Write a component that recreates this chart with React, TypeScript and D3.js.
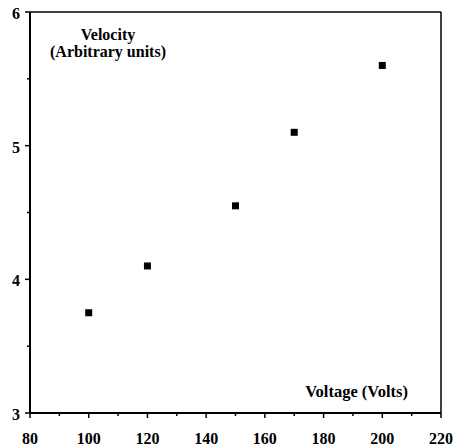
import React, { useEffect, useRef } from "react";
import * as d3 from "d3";

const voltage = [100, 120, 150, 170, 200];
const velocity = [3.75, 4.1, 4.55, 5.1, 5.6];
const xTickLabels = [80, 100, 120, 140, 160, 180, 200, 220];
const xMinorTicks = [90, 110, 130, 150, 170, 190, 210];
const yTickLabels = [3, 4, 5, 6];
const yMinorTicks = [3.5, 4.5, 5.5];
const yTitle = ["Velocity", "(Arbitrary units)"];
const xTitle = "Voltage (Volts)";

const W = 454;
const H = 446;
const FONT = "Liberation Serif, Times New Roman, DejaVu Serif, serif";

export default function App() {
  const ref = useRef<SVGSVGElement | null>(null);
  useEffect(() => {
    const svg = d3.select(ref.current);
    svg.selectAll("*").remove();
    const x = d3.scaleLinear().domain([80, 220]).range([30, 441]);
    const y = d3.scaleLinear().domain([3, 6]).range([413, 12]);

    const txt = (sel: any, size = 16) =>
      sel.style("font-family", FONT).style("font-weight", "bold").style("font-size", `${size}px`).attr("fill", "#000");

    // frame
    svg.append("line").attr("x1", x(80)).attr("x2", x(220)).attr("y1", y(6)).attr("y2", y(6))
      .attr("stroke", "#000").attr("stroke-width", 1.5);
    svg.append("line").attr("x1", x(220)).attr("x2", x(220)).attr("y1", y(6)).attr("y2", y(3))
      .attr("stroke", "#000").attr("stroke-width", 1.5);

    // bottom axis
    const gx = svg.append("g").attr("transform", `translate(0,${y(3)})`);
    gx.append("line").attr("x1", x(80)).attr("x2", x(220)).attr("stroke", "#000").attr("stroke-width", 2);
    gx.selectAll("line.major").data(xTickLabels).join("line").attr("class", "major")
      .attr("x1", (d) => x(d)).attr("x2", (d) => x(d)).attr("y1", 0).attr("y2", 5)
      .attr("stroke", "#000").attr("stroke-width", 1.5);
    gx.selectAll("line.minor").data(xMinorTicks).join("line").attr("class", "minor")
      .attr("x1", (d) => x(d)).attr("x2", (d) => x(d)).attr("y1", 0).attr("y2", 3)
      .attr("stroke", "#000").attr("stroke-width", 1.5);
    txt(gx.selectAll("text").data(xTickLabels).join("text")
      .attr("x", (d) => x(d)).attr("y", 31).attr("text-anchor", "middle"))
      .text((d) => String(d));

    // left axis
    const gy = svg.append("g").attr("transform", `translate(${x(80)},0)`);
    gy.append("line").attr("y1", y(3)).attr("y2", y(6)).attr("stroke", "#000").attr("stroke-width", 2);
    gy.selectAll("line.major").data(yTickLabels).join("line").attr("class", "major")
      .attr("y1", (d) => y(d)).attr("y2", (d) => y(d)).attr("x1", 0).attr("x2", -5)
      .attr("stroke", "#000").attr("stroke-width", 1.5);
    gy.selectAll("line.minor").data(yMinorTicks).join("line").attr("class", "minor")
      .attr("y1", (d) => y(d)).attr("y2", (d) => y(d)).attr("x1", 0).attr("x2", -3)
      .attr("stroke", "#000").attr("stroke-width", 1.5);
    txt(gy.selectAll("text").data(yTickLabels).join("text")
      .attr("x", -10).attr("y", (d) => y(d) + 7).attr("text-anchor", "end"))
      .text((d) => String(d));

    // titles
    txt(svg.selectAll("text.ytitle").data(yTitle).join("text").attr("class", "ytitle")
      .attr("x", 108).attr("y", (_, i) => 40 + i * 17).attr("text-anchor", "middle"))
      .text((d) => d);
    txt(svg.append("text").attr("x", 408).attr("y", 397).attr("text-anchor", "end"), 16.5)
      .text(xTitle);

    // points
    const pts = voltage.map((v, i) => ({ v, s: velocity[i] }));
    svg.selectAll("rect.pt").data(pts).join("rect").attr("class", "pt")
      .attr("x", (d) => x(d.v) - 3.5).attr("y", (d) => y(d.s) - 3.5)
      .attr("width", 7).attr("height", 7).attr("fill", "#000");
  }, []);

  return (
    <svg
      ref={ref}
      width={W}
      height={H}
      style={{ position: "absolute", left: 0, top: 0, background: "#fff" }}
    />
  );
}
